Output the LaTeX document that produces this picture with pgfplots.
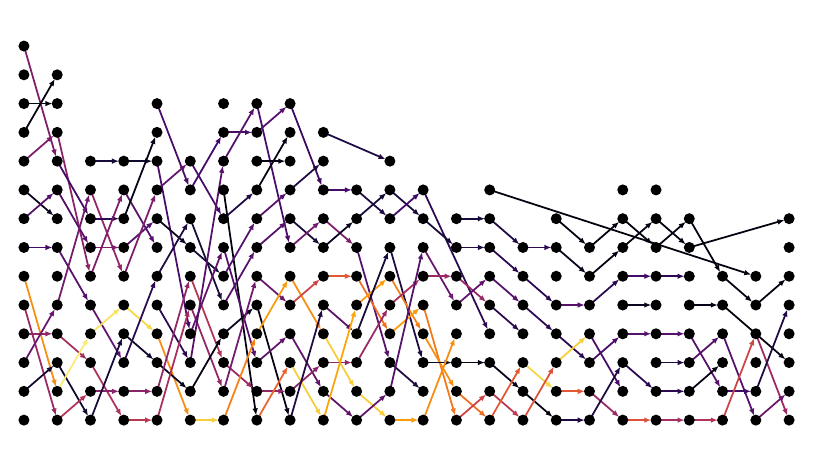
\documentclass[border=0pt]{standalone}
\usepackage{pgfplots}
\pgfplotsset{compat=1.18}
\usepackage{pgfplotstable}
\usetikzlibrary{arrows.meta}

% dots: column, rank
\pgfplotstableread[row sep=\\]{
x y\\
0 0\\0 1\\0 2\\0 3\\0 4\\0 5\\0 6\\0 7\\0 8\\0 9\\0 10\\0 11\\0 12\\0 13\\
1 0\\1 1\\1 2\\1 3\\1 4\\1 5\\1 6\\1 7\\1 8\\1 9\\1 10\\1 11\\1 12\\
2 0\\2 1\\2 2\\2 3\\2 4\\2 5\\2 6\\2 7\\2 8\\2 9\\
3 0\\3 1\\3 2\\3 3\\3 4\\3 5\\3 6\\3 7\\3 8\\3 9\\
4 0\\4 1\\4 2\\4 3\\4 4\\4 5\\4 6\\4 7\\4 8\\4 9\\4 10\\4 11\\
5 0\\5 1\\5 2\\5 3\\5 4\\5 5\\5 6\\5 7\\5 8\\5 9\\
6 0\\6 1\\6 2\\6 3\\6 4\\6 5\\6 6\\6 7\\6 8\\6 9\\6 10\\6 11\\
7 0\\7 1\\7 2\\7 3\\7 4\\7 5\\7 6\\7 7\\7 8\\7 9\\7 10\\7 11\\
8 0\\8 1\\8 2\\8 3\\8 4\\8 5\\8 6\\8 7\\8 8\\8 9\\8 10\\8 11\\
9 0\\9 1\\9 2\\9 3\\9 4\\9 5\\9 6\\9 7\\9 8\\9 9\\9 10\\
10 0\\10 1\\10 2\\10 3\\10 4\\10 5\\10 6\\10 7\\10 8\\
11 0\\11 1\\11 2\\11 3\\11 4\\11 5\\11 6\\11 7\\11 8\\11 9\\
12 0\\12 1\\12 2\\12 3\\12 4\\12 5\\12 6\\12 7\\12 8\\
13 0\\13 1\\13 2\\13 3\\13 4\\13 5\\13 6\\13 7\\
14 0\\14 1\\14 2\\14 3\\14 4\\14 5\\14 6\\14 7\\14 8\\
15 0\\15 1\\15 2\\15 3\\15 4\\15 5\\15 6\\
16 0\\16 1\\16 2\\16 3\\16 4\\16 5\\16 6\\16 7\\
17 0\\17 1\\17 2\\17 3\\17 4\\17 5\\17 6\\
18 0\\18 1\\18 2\\18 3\\18 4\\18 5\\18 6\\18 7\\18 8\\
19 0\\19 1\\19 2\\19 3\\19 4\\19 5\\19 6\\19 7\\19 8\\
20 0\\20 1\\20 2\\20 3\\20 4\\20 5\\20 6\\20 7\\
21 0\\21 1\\21 2\\21 3\\21 4\\21 5\\
22 0\\22 1\\22 2\\22 3\\22 4\\22 5\\
23 0\\23 1\\23 2\\23 3\\23 4\\23 5\\23 6\\23 7\\
}\nodes

% moves: start column, start rank, dx, drank, colour value
\pgfplotstableread{
x y u v c
0 13 1 -4 0.35
0 11 1 0 0.02
0 10 1 2 0.02
0 9 1 1 0.35
0 8 1 -1 0.05
0 7 1 1 0.25
0 6 1 0 0.2
0 5 1 -4 0.75
0 4 1 -4 0.42
0 3 1 0 0.4
0 2 1 2 0.3
0 1 1 1 0.08
1 10 1 -5 0.38
1 9 1 -2 0.2
1 8 1 -2 0.25
1 6 1 -2 0.25
1 4 1 4 0.32
1 3 1 -1 0.45
1 2 1 -2 0.08
1 1 1 2 0.95
1 0 1 1 0.48
2 9 1 0 0.1
2 8 1 -3 0.4
2 7 1 0 0.15
2 6 1 0 0.35
2 5 1 3 0.35
2 4 1 -2 0.28
2 3 1 1 0.93
2 2 1 -2 0.47
2 1 1 0 0.38
2 0 1 3 0.1
3 9 1 0 0.08
3 8 1 -2 0.25
3 7 1 3 0.03
3 6 1 1 0.25
3 5 1 3 0.35
3 4 1 -1 0.9
3 3 1 -1 0.08
3 2 1 3 0.15
3 1 1 0 0.38
3 0 1 0 0.5
4 11 1 -3 0.22
4 9 1 -6 0.22
4 8 1 1 0.28
4 7 1 -1 0.05
4 5 1 2 0.12
4 4 1 -2 0.15
4 3 1 -3 0.75
4 2 1 -1 0.05
4 1 1 4 0.4
4 0 1 4 0.45
5 9 1 -2 0.22
5 8 1 2 0.2
5 7 1 -3 0.1
5 6 1 -1 0.1
5 5 1 -3 0.48
5 4 1 -3 0.4
5 3 1 3 0.28
5 2 1 7 0.25
5 1 1 2 0.03
5 0 1 0 0.88
6 10 1 0 0.22
6 9 1 2 0.25
6 8 1 -8 0.02
6 7 1 1 0.12
6 6 1 -4 0.25
6 5 1 2 0.25
6 4 1 2 0.25
6 3 1 1 0.05
6 2 1 -1 0.42
6 1 1 4 0.32
6 0 1 3 0.72
7 11 1 -5 0.22
7 10 1 1 0.25
7 9 1 0 0.03
7 8 1 2 0.03
7 7 1 1 0.25
7 6 1 1 0.25
7 5 1 -1 0.3
7 4 1 -4 0.03
7 3 1 2 0.78
7 2 1 1 0.28
7 1 1 0 0.4
7 0 1 2 0.65
8 11 1 -3 0.18
8 8 1 1 0.12
8 7 1 -1 0.1
8 6 1 1 0.32
8 5 1 -2 0.75
8 4 1 1 0.55
8 3 1 -2 0.28
8 2 1 -2 0.88
8 1 1 1 0.38
8 0 1 4 0.12
9 10 2 -1 0.12
9 8 1 0 0.22
9 7 1 -1 0.35
9 6 1 1 0.05
9 5 1 0 0.62
9 4 1 -1 0.25
9 3 1 -2 0.88
9 2 1 0 0.4
9 1 1 -1 0.28
9 0 1 4 0.8
10 8 1 -1 0.12
10 7 1 1 0.1
10 6 1 -4 0.25
10 5 1 -2 0.68
10 4 1 1 0.78
10 3 1 3 0.1
10 2 1 2 0.42
10 1 1 -1 0.88
10 0 1 1 0.28
11 8 1 -1 0.1
11 7 1 1 0.2
11 6 1 -4 0.12
11 5 1 -2 0.72
11 4 1 1 0.45
11 3 1 1 0.78
11 2 1 -1 0.12
11 1 1 5 0.25
11 0 1 0 0.78
12 8 2 -5 0.15
12 7 1 -1 0.1
12 6 1 -2 0.3
12 5 1 0 0.42
12 4 1 -4 0.7
12 3 1 -2 0.75
12 2 1 0 0.05
12 0 1 3 0.75
13 7 1 0 0.1
13 6 1 0 0.12
13 5 1 -1 0.42
13 4 1 1 0.28
13 2 1 0 0.03
13 1 1 -1 0.68
13 0 1 1 0.55
14 8 8 -3 0.02
14 7 1 -1 0.12
14 6 1 -1 0.15
14 5 1 -1 0.25
14 4 1 -1 0.15
14 2 1 -1 0.03
14 1 1 -1 0.5
14 0 1 2 0.62
15 6 1 0 0.15
15 5 1 -1 0.15
15 4 1 -1 0.15
15 2 1 -1 0.9
15 1 1 -1 0.03
15 0 1 2 0.6
16 7 1 -1 0.02
16 6 1 -1 0.05
16 4 1 0 0.25
16 3 1 -1 0.15
16 2 1 1 0.88
16 1 1 0 0.62
16 0 1 0 0.12
17 6 1 1 0.02
17 5 1 1 0.02
17 4 1 1 0.15
17 3 1 -2 0.22
17 2 1 1 0.22
17 1 1 -1 0.42
17 0 1 2 0.12
18 7 1 -1 0.02
18 6 1 1 0.02
18 5 1 0 0.2
18 4 1 0 0.05
18 3 1 0 0.25
18 2 1 -1 0.15
18 0 1 0 0.6
19 7 1 -1 0.02
19 6 1 1 0.02
19 5 1 0 0.15
19 3 1 0 0.25
19 2 1 0 0.12
19 1 1 0 0.15
19 0 1 0 0.45
20 7 1 -2 0.02
20 6 3 1 0.02
20 4 1 0 0.03
20 3 1 -2 0.25
20 2 1 1 0.25
20 1 1 1 0.03
20 0 1 0 0.48
21 5 1 -1 0.02
21 4 2 -2 0.02
21 3 1 -3 0.25
21 1 1 0 0.2
21 0 1 3 0.55
22 4 1 1 0.02
22 3 1 -3 0.42
22 1 1 3 0.12
22 0 1 1 0.3
}\moves

\begin{document}
\begin{tikzpicture}
\begin{axis}[
    width=8.3cm, height=4.67cm, scale only axis,
    xmin=-0.72, xmax=24.23,
    ymin=-1.63, ymax=14.6,
    hide axis, clip=false,
    colormap={inferno}{rgb255=(0,0,4) rgb255=(22,11,57) rgb255=(66,10,104)
        rgb255=(106,23,110) rgb255=(147,38,103) rgb255=(188,55,84)
        rgb255=(221,81,58) rgb255=(243,120,25) rgb255=(252,165,10)
        rgb255=(246,215,70) rgb255=(252,255,164)},
    point meta min=0, point meta max=1,
]
\path (rel axis cs:0,0) rectangle (rel axis cs:1,1);
\addplot[
    point meta=\thisrow{c},
    quiver={u=\thisrow{u}, v=\thisrow{v}, colored=mapped color,
        every arrow/.append style={line width=0.5pt, shorten >=1.35pt,
            -{Latex[length=2pt,width=1.6pt]}}},
] table {\moves};
\addplot[only marks, mark=*, mark size=1.35pt, black] table {\nodes};
\end{axis}
\end{tikzpicture}
\end{document}
